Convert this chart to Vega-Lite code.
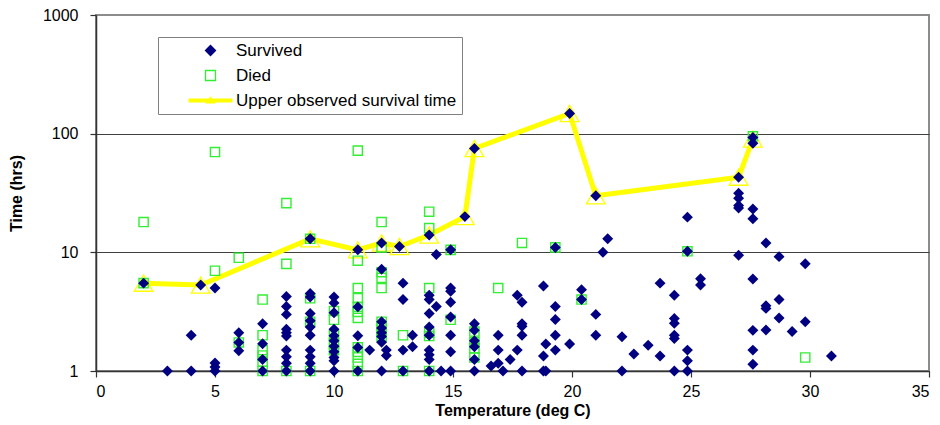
{
  "$schema": "https://vega.github.io/schema/vega-lite/v6.json",
  "width": 833,
  "height": 356,
  "autosize": "none",
  "padding": {"left": 96, "top": 15, "right": 11, "bottom": 54},
  "background": "white",
  "datasets": {
    "upper": [
      {"temp": 2, "time": 5.5}, {"temp": 4.4, "time": 5.3}, {"temp": 9, "time": 13}, {"temp": 11, "time": 10.5},
      {"temp": 12, "time": 12}, {"temp": 12.75, "time": 11.2}, {"temp": 14, "time": 14}, {"temp": 15.5, "time": 20},
      {"temp": 15.9, "time": 75}, {"temp": 19.9, "time": 148}, {"temp": 21, "time": 30}, {"temp": 27, "time": 43},
      {"temp": 27.6, "time": 90}
    ],
    "died": [
      {"temp": 2, "time": 18}, {"temp": 2, "time": 5.5},
      {"temp": 5, "time": 70}, {"temp": 5, "time": 7},
      {"temp": 6, "time": 9}, {"temp": 6, "time": 1.74},
      {"temp": 7, "time": 4}, {"temp": 7, "time": 2}, {"temp": 7, "time": 1.5}, {"temp": 7, "time": 1.35}, {"temp": 7, "time": 1.2}, {"temp": 7, "time": 1},
      {"temp": 8, "time": 26}, {"temp": 8, "time": 8}, {"temp": 8, "time": 1},
      {"temp": 9, "time": 13}, {"temp": 9, "time": 4.1}, {"temp": 9, "time": 2.6}, {"temp": 9, "time": 1},
      {"temp": 10, "time": 3.2}, {"temp": 10, "time": 2.7}, {"temp": 10, "time": 2}, {"temp": 10, "time": 1.7}, {"temp": 10, "time": 1.5},
      {"temp": 11, "time": 72}, {"temp": 11, "time": 8.5}, {"temp": 11, "time": 5}, {"temp": 11, "time": 4.1}, {"temp": 11, "time": 3.47}, {"temp": 11, "time": 3.15}, {"temp": 11, "time": 2.8}, {"temp": 11, "time": 1.58}, {"temp": 11, "time": 1.45}, {"temp": 11, "time": 1.3}, {"temp": 11, "time": 1.15}, {"temp": 11, "time": 1},
      {"temp": 12, "time": 18}, {"temp": 12, "time": 11}, {"temp": 12, "time": 6.8}, {"temp": 12, "time": 6.1}, {"temp": 12, "time": 5}, {"temp": 12, "time": 2.6}, {"temp": 12, "time": 2.35}, {"temp": 12, "time": 2.1}, {"temp": 12, "time": 1.95},
      {"temp": 12.9, "time": 2}, {"temp": 12.9, "time": 1},
      {"temp": 14, "time": 22}, {"temp": 14, "time": 16}, {"temp": 14, "time": 5}, {"temp": 14, "time": 2.1}, {"temp": 14, "time": 1.97}, {"temp": 14, "time": 1},
      {"temp": 14.9, "time": 10.5}, {"temp": 14.9, "time": 2.7},
      {"temp": 15.9, "time": 2.15}, {"temp": 15.9, "time": 1.75}, {"temp": 15.9, "time": 1.55}, {"temp": 15.9, "time": 1.3},
      {"temp": 16.9, "time": 5}, {"temp": 17.9, "time": 12}, {"temp": 19.3, "time": 11}, {"temp": 20.4, "time": 4},
      {"temp": 24.85, "time": 10.2}, {"temp": 27.6, "time": 95}, {"temp": 29.8, "time": 1.3}
    ],
    "survived": [
      {"temp": 2, "time": 5.5}, {"temp": 3, "time": 1}, {"temp": 4, "time": 2}, {"temp": 4, "time": 1}, {"temp": 4.4, "time": 5.3},
      {"temp": 5, "time": 5}, {"temp": 5, "time": 1.17}, {"temp": 5, "time": 1.08}, {"temp": 5, "time": 1},
      {"temp": 6, "time": 2.1}, {"temp": 6, "time": 1.74}, {"temp": 6, "time": 1.48},
      {"temp": 7, "time": 2.5}, {"temp": 7, "time": 1.7}, {"temp": 7, "time": 1.25}, {"temp": 7, "time": 1},
      {"temp": 8, "time": 4.25}, {"temp": 8, "time": 3.5}, {"temp": 8, "time": 3}, {"temp": 8, "time": 2.25}, {"temp": 8, "time": 2.1}, {"temp": 8, "time": 1.97}, {"temp": 8, "time": 1.5}, {"temp": 8, "time": 1.32}, {"temp": 8, "time": 1.16}, {"temp": 8, "time": 1},
      {"temp": 9, "time": 13}, {"temp": 9, "time": 4.5}, {"temp": 9, "time": 4.2}, {"temp": 9, "time": 3.05}, {"temp": 9, "time": 2.65}, {"temp": 9, "time": 2.35}, {"temp": 9, "time": 2}, {"temp": 9, "time": 1.5}, {"temp": 9, "time": 1.32}, {"temp": 9, "time": 1.16}, {"temp": 9, "time": 1},
      {"temp": 10, "time": 4.2}, {"temp": 10, "time": 3.75}, {"temp": 10, "time": 3.1}, {"temp": 10, "time": 2.25}, {"temp": 10, "time": 1.98}, {"temp": 10, "time": 1.8}, {"temp": 10, "time": 1.62}, {"temp": 10, "time": 1.45}, {"temp": 10, "time": 1.3}, {"temp": 10, "time": 1.22}, {"temp": 10, "time": 1},
      {"temp": 11, "time": 10.5}, {"temp": 11, "time": 3.47}, {"temp": 11, "time": 1.98}, {"temp": 11, "time": 1.58}, {"temp": 11, "time": 1},
      {"temp": 11.5, "time": 1.5},
      {"temp": 12, "time": 12}, {"temp": 12, "time": 7.2}, {"temp": 12, "time": 2.6}, {"temp": 12, "time": 2.3}, {"temp": 12, "time": 2.1}, {"temp": 12, "time": 1.95}, {"temp": 12, "time": 1.75}, {"temp": 12, "time": 1},
      {"temp": 12.2, "time": 1.5}, {"temp": 12.2, "time": 1.35},
      {"temp": 12.75, "time": 11.2},
      {"temp": 12.9, "time": 5.5}, {"temp": 12.9, "time": 4}, {"temp": 12.9, "time": 1.5}, {"temp": 12.9, "time": 1},
      {"temp": 13.3, "time": 2}, {"temp": 13.3, "time": 1.6},
      {"temp": 14, "time": 14}, {"temp": 14, "time": 4.35}, {"temp": 14, "time": 4}, {"temp": 14, "time": 3.05}, {"temp": 14, "time": 2.35}, {"temp": 14, "time": 2}, {"temp": 14, "time": 1.5}, {"temp": 14, "time": 1.37}, {"temp": 14, "time": 1.25}, {"temp": 14, "time": 1},
      {"temp": 14.3, "time": 9.6}, {"temp": 14.3, "time": 3.5}, {"temp": 14.5, "time": 1},
      {"temp": 14.9, "time": 10.5}, {"temp": 14.9, "time": 5}, {"temp": 14.9, "time": 4.7}, {"temp": 14.9, "time": 3.8}, {"temp": 14.9, "time": 2.85}, {"temp": 14.9, "time": 2}, {"temp": 14.9, "time": 1.45}, {"temp": 14.9, "time": 1},
      {"temp": 15.5, "time": 20},
      {"temp": 15.9, "time": 75}, {"temp": 15.9, "time": 2.5}, {"temp": 15.9, "time": 2.2}, {"temp": 15.9, "time": 1.8}, {"temp": 15.9, "time": 1.6}, {"temp": 15.9, "time": 1.25}, {"temp": 15.9, "time": 1},
      {"temp": 16.6, "time": 1.1}, {"temp": 16.9, "time": 2}, {"temp": 16.9, "time": 1.5}, {"temp": 16.9, "time": 1.16},
      {"temp": 17.1, "time": 1}, {"temp": 17.4, "time": 1.25}, {"temp": 17.7, "time": 4.35}, {"temp": 17.7, "time": 1.5},
      {"temp": 17.9, "time": 3.8}, {"temp": 17.9, "time": 2.5}, {"temp": 17.9, "time": 2.38}, {"temp": 17.9, "time": 2}, {"temp": 17.9, "time": 1},
      {"temp": 18.8, "time": 5.2}, {"temp": 18.8, "time": 1.34}, {"temp": 18.8, "time": 1}, {"temp": 18.9, "time": 1.69}, {"temp": 18.9, "time": 1},
      {"temp": 19.3, "time": 11}, {"temp": 19.3, "time": 3.5}, {"temp": 19.3, "time": 2.72}, {"temp": 19.3, "time": 2}, {"temp": 19.3, "time": 1.5},
      {"temp": 19.9, "time": 148}, {"temp": 19.9, "time": 1.69},
      {"temp": 20.4, "time": 4.85}, {"temp": 20.4, "time": 4},
      {"temp": 21, "time": 30}, {"temp": 21, "time": 3}, {"temp": 21, "time": 2},
      {"temp": 21.3, "time": 10}, {"temp": 21.5, "time": 13},
      {"temp": 22.1, "time": 1.94}, {"temp": 22.1, "time": 1}, {"temp": 22.6, "time": 1.39}, {"temp": 23.2, "time": 1.65},
      {"temp": 23.7, "time": 5.5}, {"temp": 23.7, "time": 1.34},
      {"temp": 24.3, "time": 4.35}, {"temp": 24.3, "time": 2.77}, {"temp": 24.3, "time": 2.52}, {"temp": 24.3, "time": 2}, {"temp": 24.3, "time": 1.88}, {"temp": 24.3, "time": 1},
      {"temp": 24.85, "time": 19.8}, {"temp": 24.85, "time": 10.2}, {"temp": 24.85, "time": 1.5}, {"temp": 24.85, "time": 1.22}, {"temp": 24.85, "time": 1},
      {"temp": 25.4, "time": 6}, {"temp": 25.4, "time": 5.3},
      {"temp": 27, "time": 43}, {"temp": 27, "time": 31.5}, {"temp": 27, "time": 28.6}, {"temp": 27, "time": 24.8}, {"temp": 27, "time": 23.6}, {"temp": 27, "time": 9.45},
      {"temp": 27.6, "time": 93}, {"temp": 27.6, "time": 83}, {"temp": 27.6, "time": 23.2}, {"temp": 27.6, "time": 19.2}, {"temp": 27.6, "time": 5.97}, {"temp": 27.6, "time": 2.2}, {"temp": 27.6, "time": 1.5}, {"temp": 27.6, "time": 1.14},
      {"temp": 28.15, "time": 12}, {"temp": 28.15, "time": 3.55}, {"temp": 28.15, "time": 3.37}, {"temp": 28.15, "time": 2.22},
      {"temp": 28.7, "time": 9.2}, {"temp": 28.7, "time": 4}, {"temp": 28.7, "time": 2.8},
      {"temp": 29.25, "time": 2.15}, {"temp": 29.8, "time": 8}, {"temp": 29.8, "time": 2.6}, {"temp": 30.9, "time": 1.34}
    ]
  },
  "encoding": {
    "x": {
      "field": "temp", "type": "quantitative",
      "scale": {"domain": [0, 35], "nice": false, "zero": false},
      "axis": {"title": "Temperature (deg C)", "values": [0, 5, 10, 15, 20, 25, 30, 35], "grid": false, "labelPadding": 6, "titlePadding": 3}
    },
    "y": {
      "field": "time", "type": "quantitative",
      "scale": {"type": "log", "domain": [1, 1000], "nice": false},
      "axis": {
        "title": "Time (hrs)", "values": [1, 10, 100, 1000], "format": "d", "grid": true,
        "gridColor": {"condition": {"test": "datum.value === 1000", "value": "#8c8c8c"}, "value": "#404040"},
        "gridWidth": 1, "labelPadding": 12, "titlePadding": 18
      }
    }
  },
  "layer": [
    {
      "data": {"name": "upper"},
      "mark": {"type": "line", "color": "#ffff00", "strokeWidth": 5, "clip": true}
    },
    {
      "data": {"name": "upper"},
      "mark": {"type": "point", "shape": "triangle-up", "filled": false, "stroke": "#ffff00", "strokeWidth": 1.3, "size": 350, "opacity": 1}
    },
    {
      "data": {"name": "died"},
      "mark": {"type": "point", "shape": "square", "filled": false, "stroke": "#33ee33", "strokeWidth": 1.4, "size": 85, "opacity": 1}
    },
    {
      "data": {"name": "survived"},
      "mark": {"type": "point", "filled": true, "size": 120, "opacity": 1, "strokeWidth": 0},
      "encoding": {
        "fill": {
          "datum": "Survived", "type": "nominal",
          "scale": {"domain": ["Survived", "Died", "Upper observed survival time"], "range": ["#000080", "transparent", "#ffff00"]},
          "legend": {
            "title": null, "orient": "none", "legendX": 62, "legendY": 22,
            "strokeColor": "#808080", "fillColor": "white", "padding": 5,
            "labelFont": "Liberation Sans", "labelFontSize": 17, "labelColor": "black", "labelLimit": 0,
            "symbolSize": 100, "symbolOffset": 39, "labelOffset": 17, "rowPadding": 7,
            "symbolStrokeWidth": 1.3, "symbolOpacity": 1
          }
        },
        "stroke": {
          "datum": "Survived", "type": "nominal",
          "scale": {"domain": ["Survived", "Died", "Upper observed survival time"], "range": ["#000080", "#33ee33", "transparent"]},
          "legend": {
            "title": null, "orient": "none", "legendX": 62, "legendY": 22,
            "strokeColor": "#808080", "fillColor": "white", "padding": 5,
            "labelFont": "Liberation Sans", "labelFontSize": 17, "labelColor": "black", "labelLimit": 0,
            "symbolSize": 100, "symbolOffset": 39, "labelOffset": 17, "rowPadding": 7,
            "symbolStrokeWidth": 1.3, "symbolOpacity": 1
          }
        },
        "shape": {
          "datum": "Survived", "type": "nominal",
          "scale": {"domain": ["Survived", "Died", "Upper observed survival time"], "range": ["diamond", "square", "M-4.4,-0.4L4.4,-0.4L4.4,0.4L-4.4,0.4Z M0,-0.85L1.05,0.6L-1.05,0.6Z M0,-0.5L-0.7,0.4L0.7,0.4Z"]},
          "legend": {
            "title": null, "orient": "none", "legendX": 62, "legendY": 22,
            "strokeColor": "#808080", "fillColor": "white", "padding": 5,
            "labelFont": "Liberation Sans", "labelFontSize": 17, "labelColor": "black", "labelLimit": 0,
            "symbolSize": 100, "symbolOffset": 39, "labelOffset": 17, "rowPadding": 7,
            "symbolStrokeWidth": 1.3, "symbolOpacity": 1
          }
        }
      }
    }
  ],
  "config": {
    "font": "Liberation Sans",
    "view": {"stroke": "#8c8c8c", "strokeWidth": 2},
    "axis": {
      "labelFont": "Liberation Sans", "labelFontSize": 16, "labelColor": "#000",
      "titleFont": "Liberation Sans", "titleFontSize": 16, "titleFontWeight": "bold", "titleColor": "#000",
      "domainColor": "#333333", "domainWidth": 1.5, "tickColor": "#333333", "tickSize": 6, "tickWidth": 1.2
    }
  }
}
